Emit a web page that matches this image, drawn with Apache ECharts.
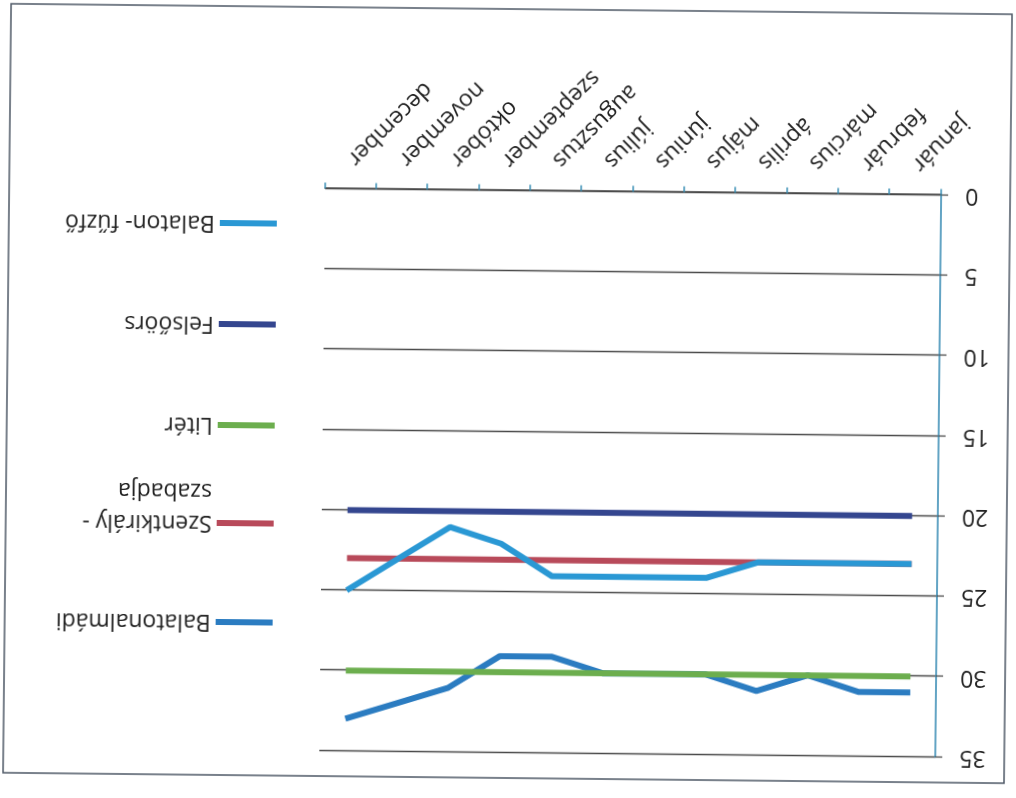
<!DOCTYPE html>
<html>
<head>
<meta charset="utf-8">
<script src="https://cdn.jsdelivr.net/npm/echarts@6/dist/echarts.min.js"></script>
<style>
html,body{margin:0;padding:0;background:#fff;overflow:hidden;}
#chart{position:absolute;left:0;top:0;width:1016px;height:798px;transform:rotate(180.6deg);transform-origin:50% 50%;}
</style>
</head>
<body>
<div id="chart"></div>
<script>
const months = ['január','február','március','április','május','június','július','augusztus','szeptember','október','november','december'];
const yTicks = [0, 5, 10, 15, 20, 25, 30, 35];
const balatonalmadi = [31, 31, 30, 31, 30, 30, 30, 29, 29, 31, 32, 33];
const szentkiraly = [23, 23, 23, 23, 23, 23, 23, 23, 23, 23, 23, 23];
const liter = [30, 30, 30, 30, 30, 30, 30, 30, 30, 30, 30, 30];
const felsoors = [20, 20, 20, 20, 20, 20, 20, 20, 20, 20, 20, 20];
const fuzfo = [23, 23, 23, 23, 24, 24, 24, 24, 22, 21, 23, 25];

const seriesNames = ['Balatonalmádi', 'Szentkirály - szabadja', 'Litér', 'Felsőörs', 'Balaton- fűzfő'];
const seriesData = [balatonalmadi, szentkiraly, liter, felsoors, fuzfo];
const colors = ['#2b7cc1', '#b84a5a', '#6cae4e', '#34468f', '#2a98d4'];

const FONT = 'Open Sans';
const FS = 23;
const legendCenters = [173, 272, 370, 471, 572];

const legends = seriesNames.map((n, i) => {
  const multi = i === 1;
  const lh = multi ? 32 : 28;
  const h = multi ? lh * 3 : lh;
  return {
    orient: 'vertical',
    left: 741,
    top: legendCenters[i] - h / 2,
    padding: 0,
    icon: 'rect',
    itemWidth: 57,
    itemHeight: 6,
    selectedMode: false,
    data: [n],
    formatter: multi ? '\nSzentkirály -\nszabadja' : '{name}',
    textStyle: { fontFamily: FONT, fontSize: FS, color: '#222', lineHeight: lh }
  };
});

const chart = echarts.init(document.getElementById('chart'), null, { renderer: 'canvas' });
chart.setOption({
  animation: false,
  backgroundColor: '#fff',
  color: colors,
  graphic: [{
    type: 'rect',
    shape: { x: 8, y: 20, width: 1001, height: 769 },
    style: { fill: 'none', stroke: '#4d5866', lineWidth: 1.5 },
    silent: true
  }],
  legend: legends,
  grid: { left: 77, right: 323, top: 45.5, bottom: 190.5, containLabel: false },
  xAxis: {
    type: 'category',
    data: months,
    boundaryGap: true,
    axisLine: { lineStyle: { color: '#4a4a4a', width: 1.5 } },
    axisTick: { show: true, length: 6, lineStyle: { color: '#3a8fb5', width: 1.5 } },
    axisLabel: { rotate: 45, margin: 27, interval: 0, fontFamily: FONT, fontSize: FS, color: '#222' }
  },
  yAxis: {
    type: 'value',
    min: yTicks[0],
    max: yTicks[yTicks.length - 1],
    interval: 5,
    axisLine: { show: true, lineStyle: { color: '#2f86b0', width: 1.5 } },
    axisTick: { show: true, length: 7, lineStyle: { color: '#4a4a4a', width: 1.3 } },
    axisLabel: { margin: 24, fontFamily: FONT, fontSize: FS, color: '#222' },
    splitLine: { show: true, lineStyle: { color: '#4a4a4a', width: 1.4 } }
  },
  series: seriesNames.map((n, i) => ({
    name: n,
    type: 'line',
    data: seriesData[i],
    symbol: 'none',
    lineStyle: { width: 6, color: colors[i] },
    itemStyle: { color: colors[i] },
    z: 2 + i
  }))
});
</script>
</body>
</html>
